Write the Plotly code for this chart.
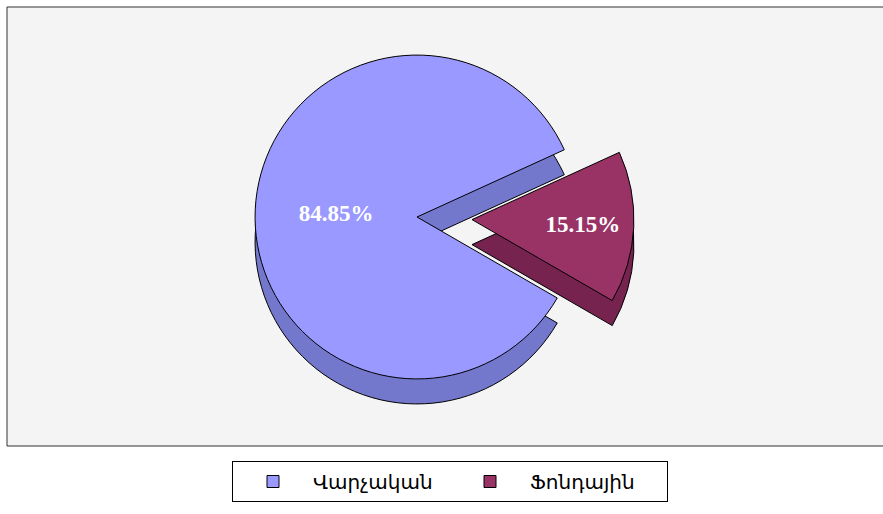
import plotly.graph_objects as go

labels = ["Վարչական", "Ֆոնդային"]
values = [84.85, 15.15]
top_colors = ["#9999ff", "#993366"]
side_colors = ["#7478cc", "#76244f"]
pulls = [0, 0.34]

W, H = 883, 514
cx, cy = 417, 217
half = 217
depth = 25

fig = go.Figure()

# side (depth) layer
fig.add_trace(go.Pie(
    labels=labels, values=values, sort=False, direction="clockwise", rotation=120,
    pull=pulls, textinfo="none", hoverinfo="skip", showlegend=False,
    marker=dict(colors=side_colors, line=dict(color="#000000", width=1)),
    domain=dict(x=[(cx - half) / W, (cx + half) / W],
                y=[1 - (cy + half + depth) / H, 1 - depth / H]),
))

# top face
fig.add_trace(go.Pie(
    labels=labels, values=values, sort=False, direction="clockwise", rotation=120,
    pull=pulls, texttemplate="%{percent:.2%}", textposition="inside",
    insidetextorientation="horizontal",
    textfont=dict(family="Liberation Serif", size=23, color="white", weight="bold"),
    marker=dict(colors=top_colors, line=dict(color="#000000", width=1)),
    domain=dict(x=[(cx - half) / W, (cx + half) / W],
                y=[1 - (cy + half) / H, 1 - (cy - half) / H]),
))

fig.update_layout(
    width=W, height=H,
    margin=dict(l=0, r=0, t=0, b=0),
    paper_bgcolor="white",
    uniformtext=dict(minsize=23, mode="show"),
    shapes=[dict(type="rect", xref="paper", yref="paper",
                 x0=7 / W, x1=1.01, y0=1 - 446 / H, y1=1 - 7 / H,
                 line=dict(color="#333333", width=1), fillcolor="#f4f4f4",
                 layer="below")],
    legend=dict(orientation="h", x=450 / W, xanchor="center", y=1 - 461 / H, yanchor="top",
                bgcolor="white", bordercolor="#000000", borderwidth=1,
                font=dict(family="DejaVu Sans", size=20, color="#000000"),
                itemwidth=70, entrywidth=132, traceorder="normal"),
)

fig.write_html("out.html", config={"displayModeBar": False},
               post_script="document.body.style.margin='0px';")
